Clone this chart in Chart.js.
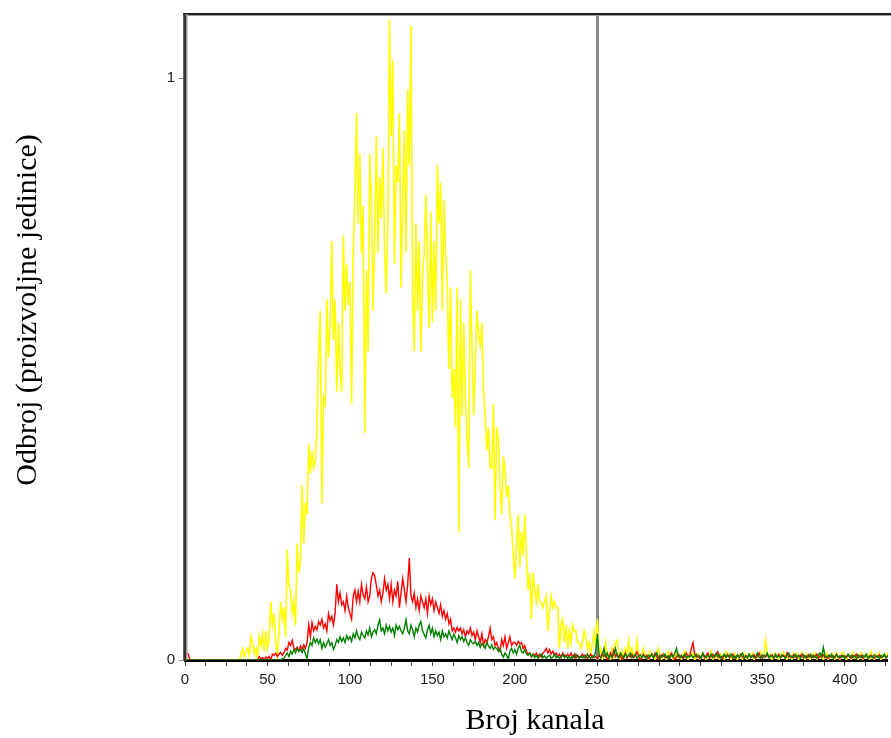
<!DOCTYPE html>
<html>
<head>
<meta charset="utf-8">
<script src="https://cdn.jsdelivr.net/npm/chart.js@4/dist/chart.umd.min.js"></script>
<style>
html,body{margin:0;padding:0;background:#fff;overflow:hidden;}
#wrap{width:891px;height:738px;position:relative;}
</style>
</head>
<body>
<div id="wrap"><canvas id="c" width="891" height="738"></canvas></div>
<script>
// ---- data (counts per channel) ----
const yellowCounts = [
0,0,0,0,0,0,0,0,0,0,
0,0,0,0,0,0,0,0,0,0,
0,0,0,0,0,0,0,0,0,0,
0,0,0,0,0.01,0.02,0.005,0.015,0.02,0.008,
0.04,0.03,0.01,0.02,0.005,0.04,0.025,0.045,0.015,0.05,
0.02,0.035,0.1,0.06,0.08,0.03,0.01,0.05,0.1,0.07,
0.09,0.04,0.19,0.13,0.12,0.08,0.1,0.06,0.2,0.15,
0.17,0.3,0.2,0.27,0.25,0.37,0.32,0.36,0.33,0.34,
0.4,0.53,0.6,0.27,0.45,0.44,0.62,0.52,0.58,0.72,
0.55,0.62,0.46,0.58,0.5,0.46,0.73,0.6,0.68,0.61,
0.65,0.44,0.7,0.8,0.94,0.75,0.87,0.7,0.78,0.39,
0.67,0.53,0.87,0.8,0.6,0.72,0.9,0.7,0.83,0.76,
0.88,0.7,0.63,0.75,1.1,0.9,1.03,0.68,0.85,0.82,
0.94,0.64,0.8,0.91,0.7,0.98,0.85,1.09,0.63,0.53,
0.75,0.6,0.72,0.53,0.66,0.7,0.8,0.68,0.57,0.77,
0.58,0.72,0.6,0.85,0.75,0.82,0.6,0.79,0.7,0.65,
0.5,0.64,0.45,0.5,0.4,0.64,0.22,0.62,0.42,0.58,
0.45,0.38,0.33,0.67,0.54,0.42,0.5,0.6,0.56,0.54,
0.58,0.46,0.42,0.36,0.4,0.33,0.33,0.44,0.24,0.4,
0.38,0.3,0.25,0.35,0.33,0.28,0.3,0.25,0.23,0.18,
0.14,0.2,0.25,0.16,0.22,0.18,0.25,0.18,0.12,0.15,
0.07,0.15,0.12,0.1,0.13,0.1,0.1,0.09,0.1,0.11,
0.05,0.08,0.11,0.09,0.1,0.09,0.09,0.02,0.06,0.07,
0.03,0.06,0.02,0.05,0.03,0.06,0.05,0.05,0.03,0.03,
0.02,0.03,0.05,0.04,0.02,0.03,0.01,0.03,0.05,0.02,
0.07,0.01,0.02,0.0,0.01,0.03,0.005,0.01,0.0,0.02,
0.005,0.03,0.034,0.01,0.0,0.015,0.005,0.02,0.01,0.033,
0.01,0.02,0.005,0.01,0.034,0.012,0.0,0.01,0.02,0.005,
0.01,0.0,0.015,0.005,0.008,0.0,0.012,0.02,0.005,0.0,
0.01,0.005,0.0,0.015,0.008,0.01,0.0,0.005,0.012,0.003,
0.008,0.0,0.01,0.015,0.005,0.0,0.01,0.006,0.012,0.0,
0.005,0.01,0.0,0.008,0.012,0.004,0.0,0.01,0.006,0.015,
0.0,0.008,0.004,0.012,0.0,0.01,0.005,0.0,0.014,0.006,
0.01,0.0,0.005,0.012,0.003,0.0,0.01,0.008,0.0,0.012,
0.005,0.0,0.01,0.006,0.012,0.0,0.008,0.004,0.01,0.015,
0.006,0.01,0.034,0.012,0.004,0.01,0.0,0.008,0.012,0.005,
0.0,0.01,0.006,0.014,0.004,0.0,0.01,0.008,0.0,0.012,
0.005,0.01,0.0,0.008,0.013,0.004,0.0,0.01,0.006,0.0,
0.01,0.005,0.012,0.0,0.008,0.004,0.01,0.0,0.006,0.012,
0.0,0.008,0.004,0.01,0.0,0.012,0.006,0.0,0.01,0.014,
0.005,0.0,0.01,0.008,0.0,0.012,0.004,0.01,0.0,0.006,
0.012,0.0,0.008,0.005,0.01,0.0,0.014,0.006,0.0,0.01,
0.005,0.012,0.0,0.008,0.01,0.004,0.012,0.012,0.012,0.01,0.008
];
const redCounts = [
0,0.012,0.01,0,0,0,0,0,0,0,
0,0,0,0,0,0,0,0,0,0,
0,0,0,0,0,0,0,0,0,0,
0,0,0,0,0,0,0,0,0,0,
0,0,0,0,0,0.006,0.002,0.004,0.0,0.005,
0.003,0.006,0.0,0.01,0.008,0.012,0.006,0.01,0.013,0.008,
0.012,0.02,0.017,0.03,0.025,0.034,0.02,0.018,0.022,0.015,
0.024,0.018,0.026,0.02,0.03,0.06,0.04,0.064,0.05,0.058,
0.052,0.066,0.06,0.07,0.055,0.062,0.05,0.08,0.068,0.075,
0.06,0.08,0.13,0.1,0.115,0.095,0.1,0.085,0.11,0.09,
0.08,0.07,0.11,0.12,0.1,0.118,0.1,0.13,0.112,0.105,
0.125,0.1,0.11,0.14,0.15,0.145,0.128,0.11,0.12,0.1,
0.115,0.14,0.12,0.13,0.105,0.13,0.1,0.12,0.11,0.135,
0.09,0.115,0.14,0.12,0.1,0.13,0.175,0.11,0.1,0.115,
0.09,0.105,0.085,0.11,0.1,0.09,0.105,0.08,0.11,0.095,
0.105,0.085,0.1,0.09,0.08,0.095,0.075,0.085,0.07,0.08,
0.062,0.07,0.05,0.055,0.048,0.056,0.05,0.055,0.045,0.052,
0.04,0.05,0.045,0.055,0.042,0.048,0.035,0.05,0.04,0.03,
0.045,0.025,0.035,0.03,0.04,0.055,0.035,0.04,0.025,0.03,
0.02,0.015,0.035,0.025,0.04,0.02,0.03,0.04,0.025,0.03,
0.03,0.025,0.032,0.028,0.03,0.02,0.025,0.015,0.01,0.012,
0.005,0.01,0.008,0.012,0.006,0.01,0.005,0.012,0.015,0.02,
0.012,0.018,0.01,0.015,0.008,0.012,0.006,0.01,0.004,0.012,
0.008,0.005,0.01,0.006,0.012,0.004,0.01,0.003,0.008,0.005,
0.006,0.01,0.004,0.008,0.003,0.006,0.01,0.004,0.008,0.005,
0.003,0.008,0.004,0.012,0.006,0.01,0.0,0.005,0.012,0.004,
0.017,0.006,0.01,0.004,0.008,0.0,0.006,0.012,0.003,0.008,
0.005,0.01,0.004,0.008,0.014,0.006,0.0,0.005,0.01,0.004,
0.008,0.003,0.006,0.01,0.004,0.012,0.006,0.0,0.008,0.005,
0.01,0.004,0.006,0.003,0.008,0.012,0.005,0.0,0.006,0.01,
0.004,0.008,0.003,0.006,0.012,0.005,0.008,0.02,0.03,0.01,
0.005,0.008,0.003,0.006,0.01,0.004,0.008,0.012,0.003,0.006,
0.01,0.005,0.008,0.014,0.004,0.006,0.003,0.008,0.005,0.01,
0.004,0.007,0.01,0.003,0.006,0.008,0.004,0.01,0.005,0.003,
0.008,0.005,0.01,0.004,0.006,0.009,0.003,0.007,0.012,0.005,
0.003,0.008,0.005,0.01,0.004,0.006,0.009,0.003,0.007,0.005,
0.01,0.004,0.006,0.008,0.003,0.012,0.005,0.007,0.004,0.009,
0.005,0.003,0.008,0.006,0.01,0.004,0.007,0.003,0.009,0.005,
0.008,0.004,0.006,0.01,0.003,0.007,0.005,0.009,0.004,0.006,
0.003,0.008,0.005,0.007,0.004,0.01,0.006,0.003,0.008,0.005,
0.007,0.004,0.009,0.005,0.003,0.008,0.006,0.01,0.004,0.006,
0.008,0.003,0.006,0.009,0.005,0.004,0.008,0.006,0.003,0.007,
0.005,0.009,0.004,0.006,0.008,0.003,0.007,0.005,0.009,0.004,0.006
];
const greenCounts = [
0,0,0,0,0,0,0,0,0,0,
0,0,0,0,0,0,0,0,0,0,
0,0,0,0,0,0,0,0,0,0,
0,0,0,0,0,0,0,0,0,0,
0,0,0,0,0,0,0,0,0,0,
0,0,0,0,0,0,0,0,0,0.002,
0.003,0.008,0.012,0.006,0.015,0.01,0.018,0.012,0.02,0.015,
0.018,0.013,0.02,0.01,0.002,0.022,0.03,0.025,0.038,0.03,
0.036,0.028,0.035,0.02,0.03,0.022,0.028,0.035,0.025,0.03,
0.018,0.025,0.035,0.03,0.04,0.032,0.038,0.03,0.042,0.035,
0.04,0.032,0.045,0.038,0.05,0.04,0.035,0.048,0.042,0.038,
0.05,0.043,0.055,0.04,0.048,0.052,0.045,0.06,0.069,0.05,
0.055,0.045,0.06,0.05,0.058,0.048,0.055,0.042,0.06,0.052,
0.058,0.05,0.045,0.055,0.069,0.05,0.045,0.06,0.052,0.04,
0.055,0.048,0.06,0.066,0.05,0.044,0.038,0.052,0.06,0.045,
0.055,0.04,0.05,0.042,0.048,0.035,0.05,0.04,0.045,0.038,
0.05,0.042,0.035,0.045,0.038,0.03,0.042,0.035,0.04,0.032,
0.038,0.03,0.025,0.035,0.03,0.028,0.032,0.025,0.03,0.022,
0.028,0.025,0.02,0.03,0.024,0.02,0.026,0.018,0.022,0.02,
0.015,0.02,0.01,0.005,0.012,0.008,0.002,0.015,0.02,0.012,
0.018,0.01,0.02,0.025,0.015,0.012,0.018,0.01,0.008,0.012,
0.006,0.01,0.004,0.008,0.003,0.006,0.01,0.004,0.007,0.003,
0.006,0.008,0.003,0.005,0.01,0.004,0.007,0.003,0.006,0.009,
0.004,0.008,0.003,0.006,0.002,0.007,0.004,0.01,0.005,0.003,
0.006,0.004,0.008,0.003,0.01,0.005,0.003,0.007,0.004,0.015,
0.045,0.01,0.004,0.008,0.02,0.006,0.012,0.003,0.008,0.005,
0.01,0.02,0.006,0.004,0.012,0.008,0.003,0.01,0.005,0.008,
0.012,0.004,0.007,0.01,0.003,0.006,0.009,0.004,0.008,0.005,
0.003,0.008,0.006,0.01,0.004,0.007,0.012,0.005,0.003,0.008,
0.006,0.01,0.004,0.007,0.003,0.009,0.005,0.012,0.02,0.006,
0.008,0.004,0.006,0.01,0.003,0.007,0.005,0.009,0.004,0.006,
0.01,0.005,0.007,0.003,0.012,0.006,0.004,0.008,0.005,0.01,
0.004,0.007,0.012,0.005,0.009,0.003,0.006,0.01,0.004,0.008,
0.006,0.01,0.004,0.007,0.003,0.009,0.005,0.008,0.012,0.004,
0.007,0.003,0.01,0.005,0.008,0.004,0.006,0.012,0.005,0.003,
0.009,0.005,0.007,0.012,0.004,0.008,0.006,0.003,0.01,0.005,
0.007,0.004,0.009,0.006,0.003,0.008,0.012,0.005,0.007,0.004,
0.01,0.005,0.008,0.003,0.006,0.009,0.004,0.007,0.005,0.01,
0.004,0.008,0.006,0.003,0.009,0.012,0.005,0.022,0.007,0.004,
0.008,0.005,0.01,0.003,0.006,0.009,0.004,0.007,0.005,0.008,
0.003,0.006,0.01,0.005,0.008,0.004,0.007,0.003,0.009,0.006,
0.004,0.008,0.005,0.01,0.003,0.007,0.006,0.004,0.009,0.005,
0.007,0.003,0.008,0.005,0.01,0.004,0.006,0.012,0.005,0.008,0.004
];
const channels = yellowCounts.map((_, i) => i);   // channel numbers 0..430
const xTickLabels = [0, 50, 100, 150, 200, 250, 300, 350, 400];
const yTickLabels = [0, 1];
const xMinorStep = 12.5;
const markerChannel = 250;
const xTitle = 'Broj kanala';
const yTitle = 'Odbroj (proizvoljne jedinice)';

const toPts = arr => arr.map((v, i) => ({x: channels[i], y: v}));

const decor = {
  id: 'decor',
  beforeDatasetsDraw(chart) {
    const {ctx, chartArea: a, scales: {x}} = chart;
    const px = Math.round(x.getPixelForValue(markerChannel)) + 0.5;
    ctx.save();
    ctx.strokeStyle = '#8a8a8a';
    ctx.lineWidth = 3;
    ctx.beginPath(); ctx.moveTo(px, a.top); ctx.lineTo(px, a.bottom); ctx.stroke();
    ctx.restore();
  },
  afterDraw(chart) {
    const {ctx, chartArea: a} = chart;
    const right = chart.width;
    ctx.save();
    // top frame line
    ctx.strokeStyle = '#9a9a9a'; ctx.lineWidth = 1;
    ctx.beginPath(); ctx.moveTo(a.left, a.top + 1.5); ctx.lineTo(right, a.top + 1.5); ctx.stroke();
    ctx.strokeStyle = '#222'; ctx.lineWidth = 2;
    ctx.beginPath(); ctx.moveTo(a.left - 2, a.top); ctx.lineTo(right, a.top); ctx.stroke();
    // y axis: dark line with grey shade on its right
    ctx.strokeStyle = '#333'; ctx.lineWidth = 2.5;
    ctx.beginPath(); ctx.moveTo(a.left - 0.5, a.top); ctx.lineTo(a.left - 0.5, a.bottom); ctx.stroke();
    ctx.strokeStyle = '#a0a0a0'; ctx.lineWidth = 1.5;
    ctx.beginPath(); ctx.moveTo(a.left + 1.8, a.top); ctx.lineTo(a.left + 1.8, a.bottom - 1); ctx.stroke();
    // axis titles
    ctx.fillStyle = '#000';
    ctx.font = '30px "Liberation Serif", "Times New Roman", serif';
    ctx.textAlign = 'center'; ctx.textBaseline = 'middle';
    ctx.fillText(xTitle, 535, 721);
    ctx.translate(28, 310); ctx.rotate(-Math.PI / 2);
    ctx.fillText(yTitle, 0, 0);
    ctx.restore();
  }
};

const common = {pointRadius: 0, tension: 0, stepped: false, fill: false};
new Chart(document.getElementById('c'), {
  type: 'line',
  data: {
    datasets: [
      Object.assign({label: 'green', data: toPts(greenCounts), borderColor: '#008000', borderWidth: 1.4}, common),
      Object.assign({label: 'red', data: toPts(redCounts), borderColor: '#ff0000', borderWidth: 1.4}, common),
      Object.assign({label: 'yellow', data: toPts(yellowCounts), borderColor: '#ffff00', borderWidth: 1.6}, common)
    ]
  },
  options: {
    responsive: false, animation: false, devicePixelRatio: 1,
    layout: {padding: {top: 14, right: 0, bottom: 0, left: 0}},
    plugins: {legend: {display: false}, tooltip: {enabled: false}},
    scales: {
      x: {
        type: 'linear', min: 0, max: 426.2, z: 1,
        afterFit(s) { s.height = 78; },
        afterBuildTicks(s) {
          const t = [];
          for (let v = 0; v <= s.max; v += xMinorStep) t.push({value: v});
          s.ticks = t;
        },
        ticks: {
          autoSkip: false, maxRotation: 0, padding: 5,
          color: '#1a1a1a', font: {family: '"Liberation Sans", Arial, sans-serif', size: 15},
          callback: v => xTickLabels.includes(v) ? String(v) : ''
        },
        grid: {drawOnChartArea: false, drawTicks: true, tickLength: 6, color: '#444', tickWidth: 1},
        border: {display: true, color: '#000', width: 3}
      },
      y: {
        type: 'linear', min: 0, max: 1.11,
        afterFit(s) { s.width = 185; },
        afterBuildTicks(s) { s.ticks = yTickLabels.map(v => ({value: v})); },
        ticks: {
          padding: 4, color: '#1a1a1a',
          font: {family: '"Liberation Sans", Arial, sans-serif', size: 15},
          callback: v => String(v)
        },
        grid: {drawOnChartArea: false, drawTicks: true, tickLength: 6, color: '#888', tickWidth: 1},
        border: {display: true, color: '#333', width: 3}
      }
    }
  },
  plugins: [decor]
});
</script>
</body>
</html>
